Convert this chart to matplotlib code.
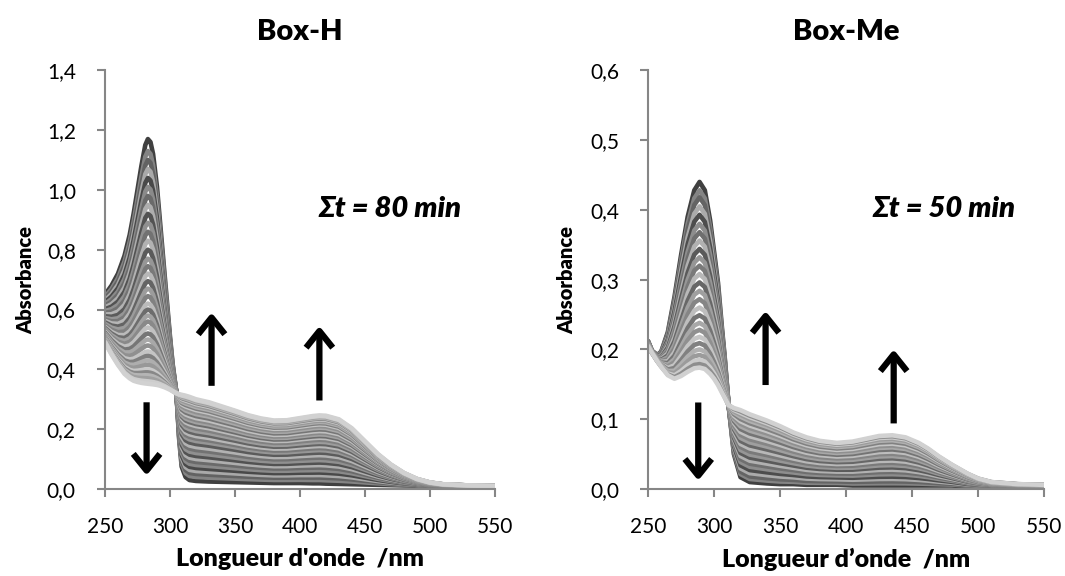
import matplotlib
matplotlib.use("Agg")
import matplotlib.pyplot as plt
from matplotlib.ticker import FuncFormatter, MultipleLocator
import numpy as np

plt.rcParams['font.family'] = ['Lato', 'DejaVu Sans']

# --- Box-H : first and last spectrum of the irradiation series ---
boxh_wl = [250, 255, 260, 265, 269, 272, 275, 278, 281, 283, 285, 287, 290, 292,
           294, 296, 298, 300, 302, 305, 307, 309, 312, 315, 320, 330, 340, 350,
           360, 370, 380, 390, 400, 410, 415, 420, 430, 440, 450, 460, 470, 480,
           490, 500, 510, 530, 550]
boxh_start = [0.65, 0.68, 0.72, 0.78, 0.85, 0.92, 1.00, 1.08, 1.15, 1.17, 1.16, 1.12,
              1.01, 0.91, 0.81, 0.71, 0.61, 0.51, 0.42, 0.32, 0.17, 0.075, 0.04,
              0.03, 0.027, 0.025, 0.024, 0.023, 0.022, 0.021, 0.020, 0.020, 0.020,
              0.019, 0.019, 0.018, 0.017, 0.016, 0.015, 0.014, 0.013, 0.012, 0.011,
              0.010, 0.010, 0.009, 0.008]
boxh_end = [0.49, 0.45, 0.415, 0.385, 0.37, 0.362, 0.358, 0.355, 0.353, 0.352, 0.351,
            0.35, 0.348, 0.346, 0.343, 0.34, 0.336, 0.332, 0.327, 0.32, 0.317, 0.315,
            0.312, 0.308, 0.30, 0.29, 0.276, 0.262, 0.247, 0.236, 0.229, 0.23, 0.237,
            0.244, 0.246, 0.245, 0.233, 0.203, 0.16, 0.117, 0.082, 0.054, 0.034,
            0.022, 0.016, 0.012, 0.010]
# absorbance at 283 nm of each recorded spectrum
boxh_peak = [1.17, 1.13, 1.10, 1.07, 1.04, 1.01, 0.98, 0.95, 0.92, 0.89, 0.86, 0.83,
             0.80, 0.77, 0.745, 0.72, 0.695, 0.67, 0.645, 0.62, 0.60, 0.58, 0.56,
             0.54, 0.52, 0.50, 0.48, 0.46, 0.445, 0.43, 0.415, 0.40, 0.39, 0.38,
             0.37, 0.36, 0.352]

# --- Box-Me ---
boxme_wl = [250, 253, 257, 260, 265, 270, 275, 280, 285, 289, 293, 297, 300, 303,
            306, 308, 311, 315, 320, 327, 340, 350, 360, 370, 380, 393, 405, 415,
            425, 435, 445, 455, 462, 470, 480, 492, 500, 510, 530, 550]
boxme_start = [0.212, 0.198, 0.192, 0.197, 0.225, 0.275, 0.335, 0.39, 0.428, 0.44,
               0.428, 0.385, 0.34, 0.295, 0.23, 0.19, 0.12, 0.05, 0.017, 0.01,
               0.008, 0.007, 0.007, 0.006, 0.006, 0.006, 0.005, 0.005, 0.005, 0.005,
               0.005, 0.005, 0.005, 0.005, 0.005, 0.004, 0.004, 0.004, 0.004, 0.004]
boxme_end = [0.205, 0.195, 0.183, 0.175, 0.163, 0.158, 0.162, 0.168, 0.173, 0.174,
             0.172, 0.165, 0.158, 0.149, 0.138, 0.131, 0.12, 0.116, 0.113, 0.107,
             0.098, 0.09, 0.081, 0.074, 0.069, 0.066, 0.068, 0.072, 0.076, 0.077,
             0.074, 0.066, 0.058, 0.047, 0.035, 0.022, 0.015, 0.01, 0.007, 0.006]
# absorbance at 289 nm of each recorded spectrum
boxme_peak = [0.44, 0.428, 0.418, 0.405, 0.393, 0.38, 0.368, 0.356, 0.344, 0.332,
              0.32, 0.308, 0.296, 0.284, 0.272, 0.26, 0.249, 0.238, 0.228, 0.218,
              0.209, 0.2, 0.192, 0.185, 0.179, 0.174]

panels = [
    dict(title="Box-H", wl=boxh_wl, a0=boxh_start, a1=boxh_end, peak=boxh_peak,
         ymax=1.4, ystep=0.2, xlabel="Longueur d'onde  /nm",
         note=u"\u03a3t = 80 min", note_xy=(469, 0.935),
         arrows=[((282, 0.29), (282, 0.045)), ((332, 0.345), (332, 0.59)),
                 ((415, 0.296), (415, 0.545))]),
    dict(title="Box-Me", wl=boxme_wl, a0=boxme_start, a1=boxme_end, peak=boxme_peak,
         ymax=0.6, ystep=0.1, xlabel=u"Longueur d\u2019onde  /nm",
         note=u"\u03a3t = 50 min", note_xy=(474, 0.401),
         arrows=[((288, 0.124), (288, 0.012)), ((339, 0.149), (339, 0.255)),
                 ((436, 0.094), (436, 0.2))]),
]

fig = plt.figure(figsize=(10.65, 5.76), dpi=100)
rects = [[0.0986, 0.151, 0.366, 0.727], [0.6085, 0.151, 0.372, 0.727]]
axis_grey = '#868686'
offsets = [0.0, 0.26, 0.12, 0.40]

for rect, p in zip(rects, panels):
    ax = fig.add_axes(rect)
    wl = np.array(p['wl'])
    a0 = np.array(p['a0'])
    a1 = np.array(p['a1'])
    k0 = a0.max()
    k1 = a1[np.argmax(a0)]
    n = len(p['peak'])
    for i, pk in enumerate(p['peak']):
        # each spectrum as a mixture of start and end species
        f = (k0 - pk) / (k0 - k1)
        spec = a0 + f * (a1 - a0)
        t = i / (n - 1)
        g = min(0.87, 0.25 + 0.32 * t + offsets[i % 4] * (1 - 0.4 * t))
        if i == n - 1:
            g = 0.82
        ax.plot(wl, spec, color=str(g), lw=3.3, solid_capstyle='round',
                solid_joinstyle='round', zorder=2)

    ax.set_xlim(250, 550)
    ax.set_ylim(0, p['ymax'])
    ax.xaxis.set_major_locator(MultipleLocator(50))
    ax.yaxis.set_major_locator(MultipleLocator(p['ystep']))
    ax.yaxis.set_major_formatter(FuncFormatter(lambda v, pos: f"{v:.1f}".replace('.', ',')))
    for s in ['top', 'right']:
        ax.spines[s].set_visible(False)
    for s in ['left', 'bottom']:
        ax.spines[s].set_color(axis_grey)
        ax.spines[s].set_linewidth(1.5)
    ax.tick_params(axis='both', direction='out', length=6, width=1.5, color=axis_grey,
                   labelsize=15, labelcolor='black')
    ax.tick_params(axis='y', pad=15)
    ax.tick_params(axis='x', pad=14)

    ax.set_xlabel(p['xlabel'], fontsize=18, fontweight='heavy')
    ax.set_ylabel("Absorbance", fontsize=14.5, fontweight='heavy')
    ax.yaxis.set_label_coords(-0.18, 0.5)
    ax.xaxis.set_label_coords(0.5, -0.14)
    ax.text(0.5, 1.092, p['title'], transform=ax.transAxes, ha='center', va='center',
            fontsize=21, fontweight='heavy')
    ax.text(p['note_xy'][0], p['note_xy'][1], p['note'], ha='center', va='center',
            fontsize=21, fontweight='heavy', style='italic')

    for tail, tip in p['arrows']:
        ax.annotate('', xy=tip, xytext=tail,
                    arrowprops=dict(arrowstyle='->, head_length=0.6, head_width=0.48',
                                    lw=4.5, color='black', mutation_scale=20,
                                    shrinkA=0, shrinkB=0, capstyle='butt'),
                    zorder=5)

fig.savefig("out.png", dpi=100)
